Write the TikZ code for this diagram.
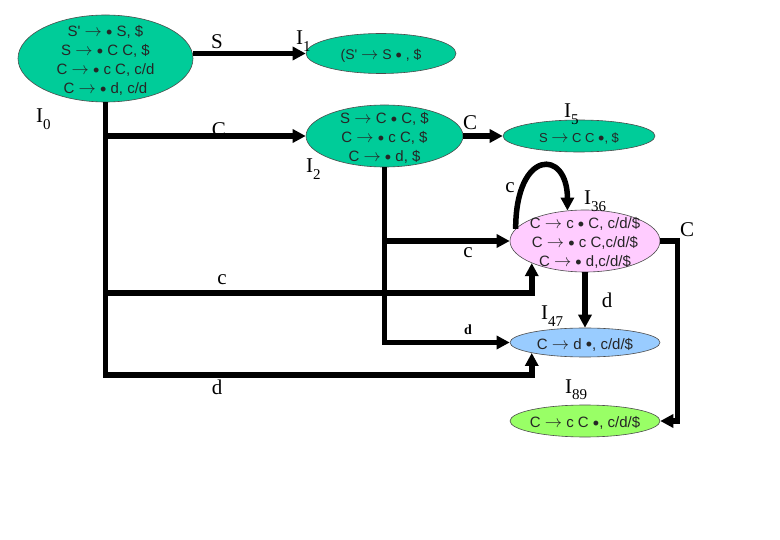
\documentclass[tikz,border=0pt]{standalone}
\usepackage{fontspec}
\setmainfont{Liberation Serif}
\newfontfamily\ar{Liberation Sans}
\usetikzlibrary{shapes.geometric,arrows.meta}
\definecolor{teal0}{RGB}{0,204,153}
\definecolor{pink0}{RGB}{255,204,255}
\definecolor{blue0}{RGB}{153,204,255}
\definecolor{green0}{RGB}{153,255,102}
\newcommand\Il[1]{I\raisebox{-0.3em}{\fontsize{15}{15}\selectfont #1}}
\newcommand\ra{{\fontsize{17}{17}\selectfont\raisebox{0.0em}{$\rightarrow$}}}
\newcommand\bu{{\fontsize{18}{18}\selectfont\raisebox{-0.1em}{•}}}
\newcommand\tx[1]{\smash{\makebox[0pt]{\raisebox{-0.42em}{\begin{tabular}{@{}c@{}}#1\end{tabular}}}}}
\begin{document}
\begin{tikzpicture}[x=1pt,y=-1pt,
  st/.style={ellipse,draw=black!70,line width=0.6pt,inner sep=0pt,
    text=black!85,font=\ar\fontsize{15}{19}\selectfont},
  arr/.style={line width=5.5pt,-{Triangle[length=13pt,width=13pt]}},
  lab/.style={font=\fontsize{21}{21}\selectfont,inner sep=0pt,anchor=base},
  ilab/.style={font=\fontsize{21}{21}\selectfont,inner sep=0pt,anchor=base west}]
\useasboundingbox[fill=white] (0,0) rectangle (780,540);

% states
\node[st,fill=teal0,minimum width=175pt,minimum height=87pt] (I0) at (105.5,58.5)
  {\tx{S' \ra\ \bu\ S, \$\\ S \ra\ \bu\ C C, \$\\ C \ra\ \bu\ c C, c/d\\ C \ra\ \bu\ d, c/d}};
\node[st,fill=teal0,minimum width=150pt,minimum height=40pt,font=\ar\fontsize{14}{19}\selectfont] (I1) at (381,53.5)
  {\tx{(S' \ra\ S \bu\ , \$}};
\node[st,fill=teal0,minimum width=157pt,minimum height=62pt] (I2) at (384.5,136)
  {\tx{S \ra\ C \bu\ C, \$\\ C \ra\ \bu\ c C, \$\\ C \ra\ \bu\ d, \$}};
\node[st,fill=teal0,minimum width=152pt,minimum height=32pt,font=\ar\fontsize{13}{19}\selectfont] (I5) at (579,136)
  {\tx{S \ra\ C C \bu, \$}};
\node[st,fill=pink0,minimum width=150pt,minimum height=62pt] (I36) at (585,241)
  {\tx{C \ra\ c \bu\ C, c/d/\$\\ C \ra\ \bu\ c C,c/d/\$\\ C \ra\ \bu\ d,c/d/\$}};
\node[st,fill=blue0,minimum width=150pt,minimum height=29pt] (I47) at (585,342.5)
  {\tx{C \ra\ d \bu, c/d/\$}};
\node[st,fill=green0,minimum width=150pt,minimum height=32pt] (I89) at (585,421)
  {\tx{C \ra\ c C \bu, c/d/\$}};

% state labels
\node[ilab] (n0) at (36,123) {\Il{0}};
\node[ilab] (n1) at (296,45) {\Il{1}};
\node[ilab] (n2) at (306,173) {\Il{2}};
\node[ilab] (n5) at (564,118) {\Il{5}};
\node[ilab] (n36) at (584,205) {\Il{36}};
\node[ilab] (n47) at (541,320) {\Il{47}};
\node[ilab] (n89) at (565,393) {\Il{89}};

% transitions from I0
\draw[arr] (I0.east |- I1.west) -- (I1.west);
\draw[arr] (I0.south |- I2.west) -- (I2.west);
\draw[arr] (I0.south |- 0,293) -| (I36.south west);
\draw[arr] (I0.south) -- (I0.south |- 0,375) -| (I47.south west);

% transitions from I2
\draw[arr] (I2.east) -- (I5.west);
\draw[arr] (I2.south |- I36.west) -- (I36.west);
\draw[arr] (I2.south) -- (I2.south |- I47.west) -- (I47.west);

% transitions from I36
\draw[arr] (I36.170) .. controls +(0,-80) and +(0,-62) .. (I36.120);
\draw[arr] (I36.south) -- (I47.north);
\draw[arr] (I36.east) -- ++(17,0) |- (I89.east);

% edge labels
\node[lab] (eS) at (217,49) {S};
\node[lab] (eC1) at (219,137) {C};
\node[lab] (eC2) at (470,130) {C};
\node[lab] (ec1) at (510,193) {c};
\node[lab] (ec2) at (468,258) {c};
\node[lab] (ec3) at (222,285) {c};
\node[lab] (ed1) at (217,395) {d};
\node[lab,font=\fontsize{14}{14}\selectfont\bfseries] (ed2) at (468,335) {d};
\node[lab] (ed3) at (607,308) {d};
\node[lab] (eC3) at (687,237) {C};
\end{tikzpicture}
\end{document}
